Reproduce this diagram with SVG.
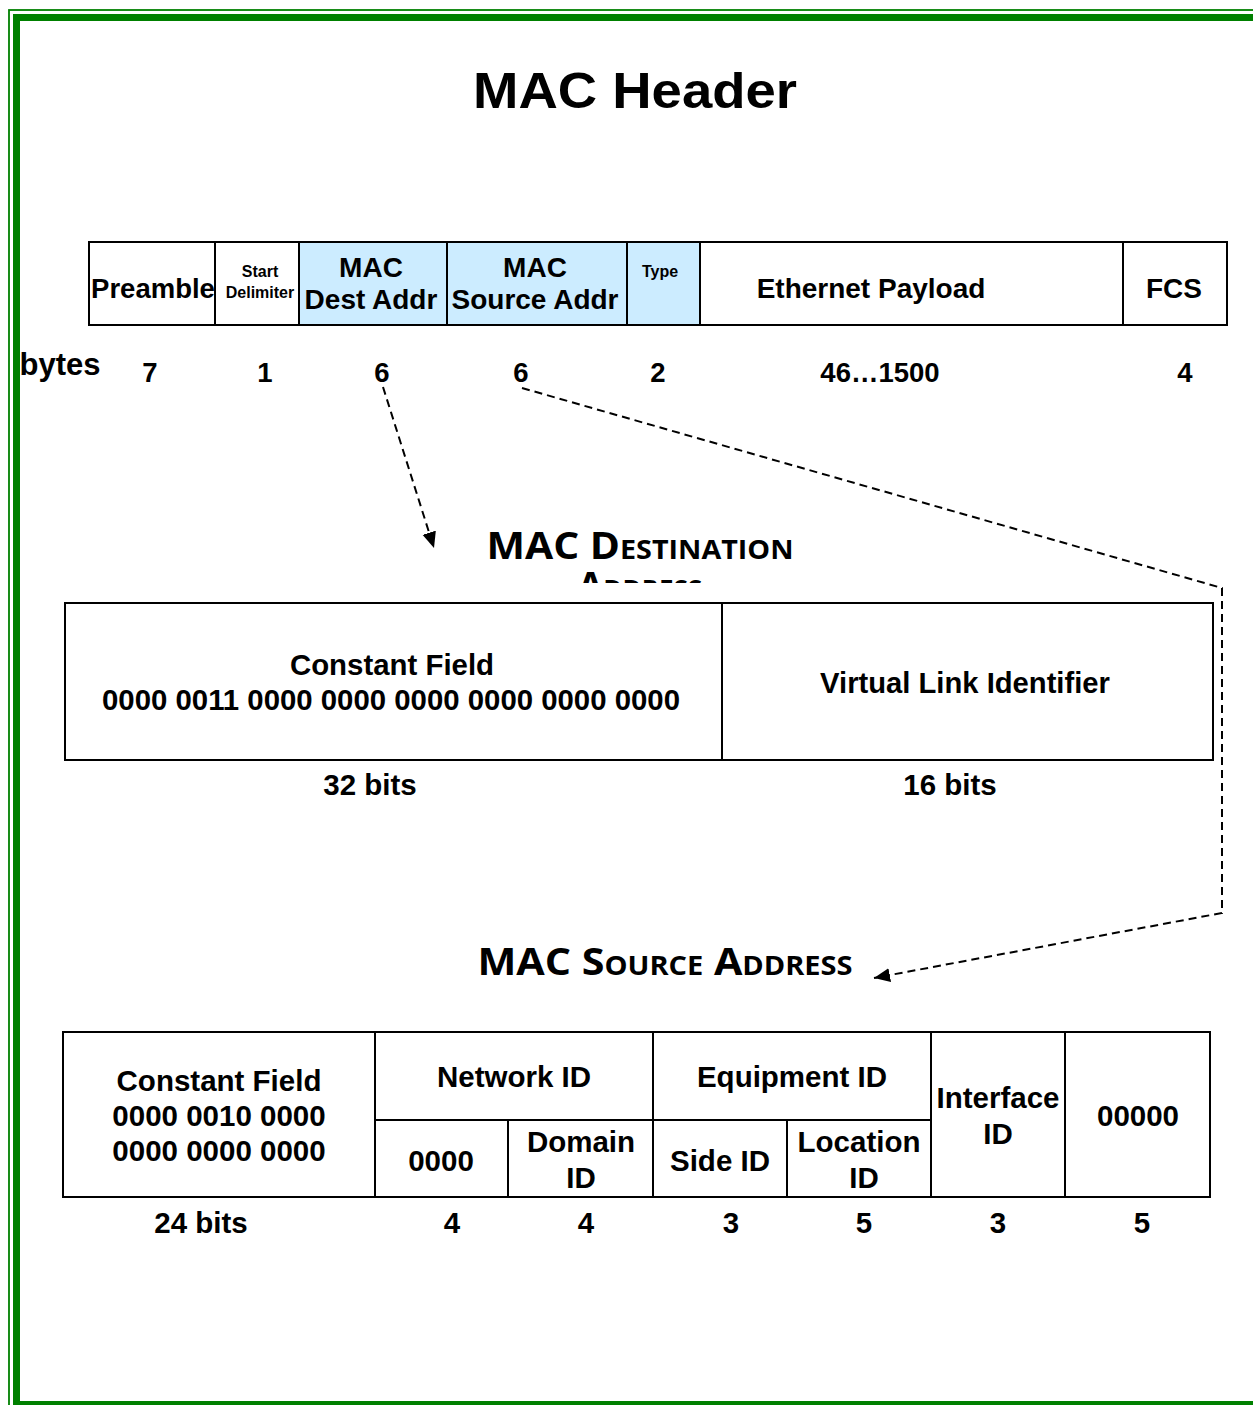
<svg xmlns="http://www.w3.org/2000/svg" width="1253" height="1405" viewBox="0 0 1253 1405">
<style>
.t{font-family:"Liberation Sans",Arial,sans-serif;font-weight:bold;fill:#000;text-anchor:middle}
.sc{font-family:"Open Sans","Liberation Sans",sans-serif;font-weight:bold;fill:#000;text-anchor:middle}
.cell{fill:#fff;stroke:#000;stroke-width:2}
.blue{fill:#CCECFF;stroke:#000;stroke-width:2}
.ln{stroke:#000;stroke-width:2;fill:none}
.dash{stroke:#000;stroke-width:2;fill:none;stroke-dasharray:8 5}
</style>
<defs>
<marker id="ah" markerUnits="userSpaceOnUse" markerWidth="18" markerHeight="16" refX="16" refY="7" orient="auto">
<path d="M0,0 L16,7 L0,14 Z" fill="#000"/>
</marker>
<clipPath id="clipAddr"><rect x="400" y="520" width="500" height="63"/></clipPath>
</defs>
<rect width="1253" height="1405" fill="#fff"/>
<g id="frame">
<rect x="9" y="10" width="1300" height="1450" fill="none" stroke="#008000" stroke-width="1.8"/>
<rect x="16.5" y="17.5" width="1300" height="1387" fill="none" stroke="#008000" stroke-width="7"/>
</g>
<g id="title"><text class="t" x="635" y="108" font-size="50" textLength="324" lengthAdjust="spacingAndGlyphs">MAC Header</text></g>

<g id="header-frame">
<g id="preamble"><rect class="cell" x="89" y="242" width="126" height="83"/><text class="t" x="153" y="298" font-size="27.5">Preamble</text></g>
<g id="start-delim"><rect class="cell" x="215" y="242" width="84" height="83"/><text class="t" x="260" y="277" font-size="16">Start</text><text class="t" x="260" y="298" font-size="16">Delimiter</text></g>
<g id="mac-dest"><rect class="blue" x="299" y="242" width="148" height="83"/><text class="t" x="371" y="277" font-size="28">MAC</text><text class="t" x="371" y="309" font-size="28">Dest Addr</text></g>
<g id="mac-src"><rect class="blue" x="447" y="242" width="180" height="83"/><text class="t" x="535" y="277" font-size="28">MAC</text><text class="t" x="535" y="309" font-size="28">Source Addr</text></g>
<g id="type"><rect class="blue" x="627" y="242" width="73" height="83"/><text class="t" x="660" y="277" font-size="16">Type</text></g>
<g id="payload"><rect class="cell" x="700" y="242" width="423" height="83"/><text class="t" x="871" y="298" font-size="28">Ethernet Payload</text></g>
<g id="fcs"><rect class="cell" x="1123" y="242" width="104" height="83"/><text class="t" x="1174" y="298" font-size="28">FCS</text></g>
</g>

<g id="bytes-row">
<text class="t" x="60" y="375" font-size="31">bytes</text>
<text class="t" x="150" y="382" font-size="27.5">7</text>
<text class="t" x="265" y="382" font-size="27.5">1</text>
<text class="t" x="382" y="382" font-size="27.5">6</text>
<text class="t" x="521" y="382" font-size="27.5">6</text>
<text class="t" x="658" y="382" font-size="27.5">2</text>
<text class="t" x="880" y="382" font-size="27.5">46…1500</text>
<text class="t" x="1185" y="382" font-size="27.5">4</text>
</g>

<g id="dest-title">
<text class="sc" x="640" y="559" font-size="37" textLength="307" lengthAdjust="spacingAndGlyphs">MAC D<tspan font-size="26">ESTINATION</tspan></text>
<text class="sc" x="640" y="599" font-size="37" clip-path="url(#clipAddr)">A<tspan font-size="26">DDRESS</tspan></text>
</g>

<g id="dest-table">
<rect class="cell" x="65" y="603" width="1148" height="157"/>
<line class="ln" x1="722" y1="603" x2="722" y2="760"/>
<text class="t" x="392" y="675" font-size="29.4">Constant Field</text>
<text class="t" x="391" y="710" font-size="29" textLength="578" lengthAdjust="spacingAndGlyphs">0000 0011 0000 0000 0000 0000 0000 0000</text>
<text class="t" x="965" y="693" font-size="29.2">Virtual Link Identifier</text>
<text class="t" x="370" y="795" font-size="29.5">32 bits</text>
<text class="t" x="950" y="795" font-size="29.5">16 bits</text>
</g>

<g id="src-title">
<text class="sc" x="665" y="975" font-size="37" textLength="375" lengthAdjust="spacingAndGlyphs">MAC S<tspan font-size="26">OURCE</tspan> A<tspan font-size="26">DDRESS</tspan></text>
</g>

<g id="src-table">
<rect class="cell" x="63" y="1032" width="1147" height="165"/>
<line class="ln" x1="375" y1="1032" x2="375" y2="1197"/>
<line class="ln" x1="653" y1="1032" x2="653" y2="1197"/>
<line class="ln" x1="931" y1="1032" x2="931" y2="1197"/>
<line class="ln" x1="1065" y1="1032" x2="1065" y2="1197"/>
<line class="ln" x1="375" y1="1120" x2="931" y2="1120"/>
<line class="ln" x1="508" y1="1120" x2="508" y2="1197"/>
<line class="ln" x1="787" y1="1120" x2="787" y2="1197"/>
<text class="t" x="219" y="1091" font-size="29.5">Constant Field</text>
<text class="t" x="219" y="1126" font-size="29.5">0000 0010 0000</text>
<text class="t" x="219" y="1161" font-size="29.5">0000 0000 0000</text>
<text class="t" x="514" y="1087" font-size="29.5">Network ID</text>
<text class="t" x="441" y="1171" font-size="29.5">0000</text>
<text class="t" x="581" y="1152" font-size="29.5">Domain</text>
<text class="t" x="581" y="1188" font-size="29.5">ID</text>
<text class="t" x="792" y="1087" font-size="29.5">Equipment ID</text>
<text class="t" x="720" y="1171" font-size="29.5">Side ID</text>
<text class="t" x="859" y="1152" font-size="29.5">Location</text>
<text class="t" x="864" y="1188" font-size="29.5">ID</text>
<text class="t" x="998" y="1108" font-size="29.5">Interface</text>
<text class="t" x="998" y="1144" font-size="29.5">ID</text>
<text class="t" x="1138" y="1126" font-size="29.5">00000</text>
<text class="t" x="201" y="1233" font-size="29.5">24 bits</text>
<text class="t" x="452" y="1233" font-size="29.5">4</text>
<text class="t" x="586" y="1233" font-size="29.5">4</text>
<text class="t" x="731" y="1233" font-size="29.5">3</text>
<text class="t" x="864" y="1233" font-size="29.5">5</text>
<text class="t" x="998" y="1233" font-size="29.5">3</text>
<text class="t" x="1142" y="1233" font-size="29.5">5</text>
</g>

<g id="connectors">
<path class="dash" d="M383,387 L434,548" marker-end="url(#ah)"/>
<path class="dash" d="M522,388 L1222,588 L1222,913 L874,978" marker-end="url(#ah)"/>
</g>
</svg>
